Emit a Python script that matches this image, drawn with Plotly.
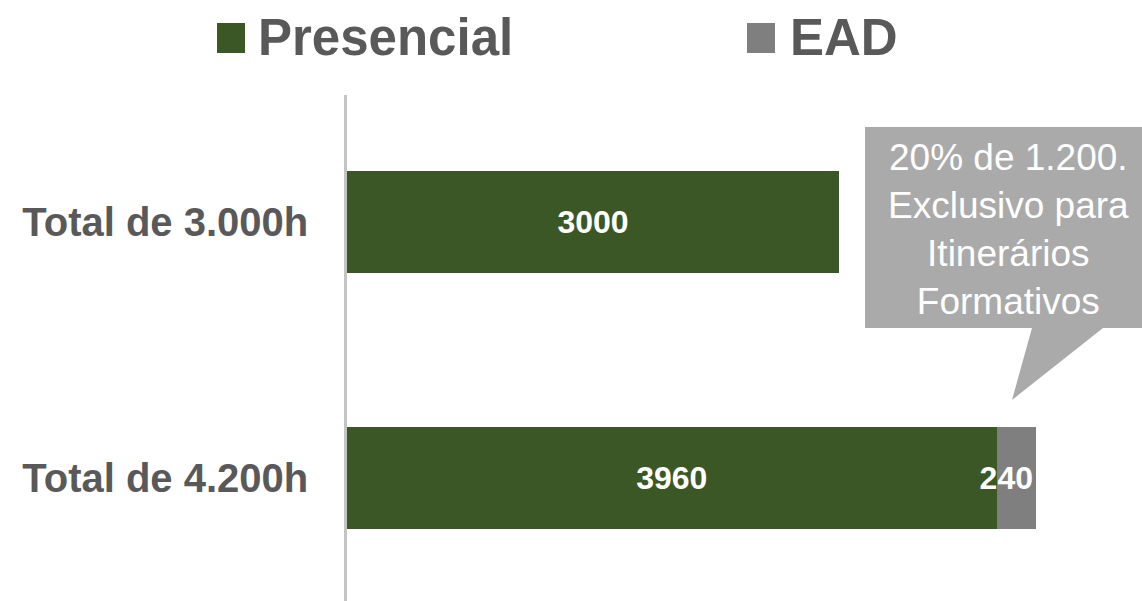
import plotly.graph_objects as go

# ---- data ----
categories = ["Total de 3.000h", "Total de 4.200h"]
presencial = [3000, 3960]
ead = [0, 240]
series_names = ["Presencial", "EAD"]
callout_lines = ["20% de 1.200.", "Exclusivo para", "Itinerários", "Formativos"]

GREEN = "#3b5725"
GRAY = "#7f7f7f"
CALLOUT = "#aaaaaa"
TEXT = "#595959"
FONT = "Liberation Sans, Arial, sans-serif"

fig = go.Figure()
fig.add_trace(go.Bar(
    y=categories, x=presencial, name=series_names[0], orientation="h",
    marker=dict(color=GREEN, line=dict(width=0)), width=0.4,
    text=[str(v) for v in presencial], textposition="inside",
    insidetextanchor="middle", textangle=0,
    textfont=dict(family=FONT, size=32, color="white", weight="bold"),
    showlegend=False,
))
fig.add_trace(go.Bar(
    y=categories, x=ead, name=series_names[1], orientation="h",
    marker=dict(color=GRAY, line=dict(width=0)), width=0.4,
    text=[str(v) if v else "" for v in ead], textposition="inside",
    insidetextanchor="end", textangle=0, constraintext="none",
    textfont=dict(family=FONT, size=32, color="white", weight="bold"),
    showlegend=False,
))

# plot area: x 347..1142 px, y 95..601 px
X0, W, Y0, H = 347, 795, 95, 506
def px(x):
    return (x - X0) / W
def py(y):
    return (Y0 + H - y) / H

shapes = []
annotations = []
# custom legend
legend_items = [(series_names[0], GREEN, 217, 245, 258), (series_names[1], GRAY, 747, 775, 790)]
for name, col, sx0, sx1, tx in legend_items:
    shapes.append(dict(type="rect", xref="paper", yref="paper",
                       x0=px(sx0), x1=px(sx1), y0=py(53), y1=py(23),
                       fillcolor=col, line=dict(width=0), layer="above"))
    annotations.append(dict(xref="paper", yref="paper", x=px(tx - 2), y=py(38),
                            xanchor="left", yanchor="middle", showarrow=False,
                            text=name, font=dict(family=FONT, size=51, color=TEXT, weight="bold")))

# callout box with tail
path = (f"M {px(865)},{py(127)} L {px(1142)},{py(127)} L {px(1142)},{py(328)} "
        f"L {px(1103)},{py(328)} L {px(1012)},{py(400)} L {px(1032)},{py(328)} "
        f"L {px(865)},{py(328)} Z")
shapes.append(dict(type="path", xref="paper", yref="paper", path=path,
                   fillcolor=CALLOUT, line=dict(width=0), layer="above"))
annotations.append(dict(xref="paper", yref="paper", x=px(1008), y=py(229),
                        xanchor="center", yanchor="middle", showarrow=False,
                        text="<br>".join(callout_lines),
                        font=dict(family=FONT, size=37, color="white")))

fig.update_layout(
    barmode="stack",
    width=1142, height=601,
    margin=dict(l=X0, r=0, t=Y0, b=0),
    paper_bgcolor="white", plot_bgcolor="white",
    shapes=shapes, annotations=annotations,
    showlegend=False,
    xaxis=dict(range=[0, W / (689 / 4200)], visible=False, showgrid=False, zeroline=False),
    yaxis=dict(range=[1.48, -0.496], showgrid=False, zeroline=False,
               showline=True, linecolor="#c4c4c4", linewidth=2.5,
               ticks="", ticklabelstandoff=28,
               tickfont=dict(family=FONT, size=40, color=TEXT, weight="bold")),
)

fig.write_html("out.html")
